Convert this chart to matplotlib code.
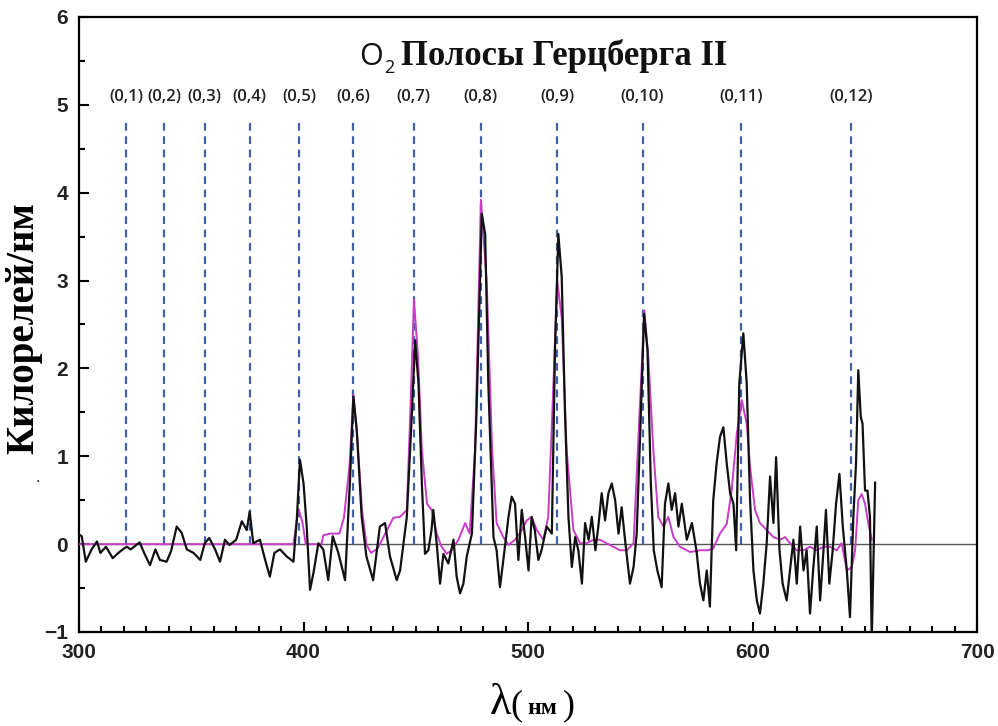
import matplotlib
matplotlib.use('Agg')
import matplotlib.pyplot as plt
from matplotlib.ticker import MultipleLocator

# band positions (nm) and labels
band_nm = [321, 338, 356, 376, 398, 422, 449, 479, 513, 551, 595, 644]
band_labels = ['(0,1)', '(0,2)', '(0,3)', '(0,4)', '(0,5)', '(0,6)', '(0,7)',
               '(0,8)', '(0,9)', '(0,10)', '(0,11)', '(0,12)']

obs_nm = [300.0, 301.2, 303.0, 305.6, 308.0, 309.5, 312.0, 315.0, 317.5, 320.0,
          321.3, 323.0, 327.0, 329.0, 331.6, 334.0, 336.0, 339.0, 341.0, 343.5,
          345.7, 348.0, 351.0, 354.0, 356.0, 358.0, 360.6, 362.8, 365.0, 367.0,
          370.0, 372.5, 374.7, 376.0, 377.6, 380.6, 382.9, 385.0, 387.0, 389.5,
          392.5, 395.5, 397.0, 398.4, 400.0, 401.4, 402.9, 404.4, 406.6, 408.8,
          411.0, 413.0, 415.5, 418.5, 420.7, 422.2, 423.7, 425.9, 428.0, 431.0,
          434.0, 436.3, 438.5, 441.5, 443.0, 446.0, 448.2, 449.7, 451.2, 452.7,
          454.1, 455.6, 457.0, 457.8, 459.3, 460.8, 462.3, 464.5, 466.8, 468.2,
          469.7, 471.2, 472.7, 475.0, 477.0, 479.4, 480.9, 482.3, 484.6, 486.0,
          487.5, 489.0, 491.3, 492.7, 494.2, 495.7, 497.2, 498.7, 500.2, 501.6,
          503.0, 504.6, 506.0, 508.3, 510.6, 512.0, 513.5, 515.0, 516.5, 518.0,
          519.5, 521.0, 522.4, 524.0, 525.4, 527.0, 528.4, 530.0, 531.3, 532.8,
          534.3, 535.8, 537.3, 538.8, 540.3, 541.7, 543.2, 545.4, 547.0, 548.4,
          550.2, 551.7, 553.2, 554.7, 556.0, 557.6, 559.5, 561.0, 562.5, 564.0,
          565.5, 567.0, 568.5, 570.7, 573.0, 575.0, 576.6, 578.1, 579.6, 581.0,
          582.5, 584.0, 585.5, 587.0, 588.5, 590.0, 591.5, 592.7, 594.1, 595.9,
          597.4, 598.9, 600.4, 601.9, 603.3, 604.8, 606.3, 607.8, 609.3, 610.5,
          612.0, 613.4, 615.2, 616.7, 618.2, 619.7, 621.2, 622.7, 624.1, 625.6,
          627.1, 628.6, 630.1, 631.6, 632.7, 634.2, 635.7, 637.2, 638.7, 640.2,
          642.0, 643.4, 644.9, 646.1, 647.1, 648.2, 649.0, 650.1, 651.2, 652.3,
          653.1, 654.6]
obs_val = [0.11, 0.09, -0.20, -0.06, 0.03, -0.10, -0.03, -0.16, -0.10, -0.05,
           -0.03, -0.06, 0.02, -0.10, -0.24, -0.06, -0.18, -0.20, -0.08, 0.20,
           0.13, -0.06, -0.10, -0.18, 0.01, 0.07, -0.06, -0.20, 0.05, -0.01,
           0.05, 0.26, 0.16, 0.37, 0.01, 0.05, -0.18, -0.37, -0.10, -0.06,
           -0.14, -0.20, 0.28, 0.96, 0.69, 0.20, -0.52, -0.33, 0.01, -0.06,
           -0.41, 0.09, -0.10, -0.41, 0.73, 1.68, 1.30, 0.31, -0.14, -0.41,
           0.20, 0.24, -0.14, -0.41, -0.30, 0.31, 1.45, 2.32, 1.83, 0.69,
           -0.11, -0.07, 0.16, 0.39, 0.01, -0.45, -0.11, -0.22, 0.05, -0.37,
           -0.56, -0.45, -0.14, 0.12, 1.45, 3.76, 3.53, 1.83, 0.08, -0.07,
           -0.49, -0.18, 0.31, 0.54, 0.46, -0.18, 0.39, 0.08, -0.30, 0.31,
           0.16, -0.18, -0.07, 0.20, 0.12, 2.21, 3.53, 3.04, 1.45, 0.31,
           -0.26, 0.08, -0.07, -0.45, 0.24, 0.05, 0.31, -0.07, 0.20, 0.58,
           0.27, 0.58, 0.69, 0.50, 0.12, 0.42, 0.05, -0.45, -0.26, 0.12,
           1.45, 2.62, 2.21, 0.69, -0.07, -0.30, -0.49, 0.46, 0.69, 0.39,
           0.58, 0.20, 0.46, 0.05, 0.24, -0.07, -0.45, -0.64, -0.30, -0.71,
           0.50, 0.92, 1.22, 1.33, 0.92, 0.58, 0.46, -0.07, 1.83, 2.40,
           1.83, 0.50, -0.30, -0.64, -0.79, -0.45, 0.01, 0.77, 0.24, 0.99,
           -0.07, -0.45, -0.64, -0.30, 0.05, -0.45, 0.20, -0.30, -0.07, -0.79,
           -0.26, 0.20, -0.64, -0.07, 0.39, -0.45, -0.07, 0.46, 0.80, 0.20,
           -0.30, -0.83, 0.31, 0.92, 1.98, 1.45, 1.37, 0.61, 0.61, 0.31,
           -1.10, 0.70]

# model spectrum (magenta)
model_nm = [300.0, 395.5, 397.7, 399.5, 401.0, 408.0, 408.8, 412.0, 416.0, 418.0,
            420.5, 422.2, 424.0, 426.0, 428.0, 430.0, 433.0, 436.0, 440.0, 443.0,
            446.0, 447.5, 449.2, 451.0, 452.7, 455.0, 457.0, 459.3, 461.5, 463.8,
            466.0, 469.0, 472.0, 474.0, 476.4, 479.0, 481.6, 484.0, 486.0, 489.0,
            491.3, 494.2, 497.2, 499.4, 501.6, 503.9, 506.8, 509.0, 511.3, 513.0,
            515.0, 517.2, 520.2, 523.2, 526.1, 529.1, 532.0, 535.0, 538.0, 541.0,
            544.0, 547.0, 549.6, 551.8, 553.6, 555.8, 558.0, 560.3, 562.5, 564.8,
            567.7, 572.2, 576.6, 580.0, 582.5, 585.5, 588.5, 590.7, 593.0, 595.2,
            597.4, 598.9, 601.1, 603.3, 606.3, 609.3, 612.3, 614.5, 616.7, 619.7,
            622.7, 625.6, 628.6, 631.6, 634.5, 637.5, 639.7, 642.0, 644.2, 645.7,
            647.1, 648.6, 650.1, 651.6, 653.1]
model_val = [0.0, 0.0, 0.40, 0.25, 0.0, 0.0, 0.10, 0.12, 0.12, 0.30,
             0.90, 1.70, 1.20, 0.40, 0.0, -0.10, -0.05, 0.10, 0.30, 0.31,
             0.39, 1.45, 2.78, 2.13, 1.07, 0.46, 0.39, 0.12, -0.03, -0.11,
             -0.07, 0.05, 0.24, 0.12, 1.07, 3.92, 2.98, 1.07, 0.24, 0.08,
             -0.01, 0.05, 0.16, 0.27, 0.31, 0.16, 0.05, 0.31, 1.82, 3.00,
             2.58, 1.07, 0.16, 0.01, 0.01, 0.05, 0.05, 0.01, -0.03, -0.07,
             -0.07, 0.01, 1.45, 2.66, 2.12, 1.07, 0.31, 0.20, 0.31, 0.08,
             -0.03, -0.09, -0.07, -0.07, -0.05, 0.12, 0.23, 0.61, 1.26, 1.64,
             1.37, 0.88, 0.39, 0.24, 0.16, 0.08, 0.05, 0.08, 0.01, -0.07,
             -0.07, -0.03, -0.07, -0.03, -0.03, -0.07, 0.01, -0.30, -0.26, -0.07,
             0.50, 0.57, 0.46, 0.23, 0.05]

fig = plt.figure(figsize=(9.98, 7.26), dpi=100)
ax = fig.add_axes([0.0792, 0.1295, 0.8998, 0.8471])

ax.axhline(0, color='#555555', lw=1.0, zorder=1)
ax.vlines(band_nm, 0, 4.8, colors='#4262a3', linestyles=(0, (3.5, 2.5)), lw=1.6, zorder=2)
ax.plot(model_nm, model_val, color='#c83cc8', lw=1.4, zorder=3)
ax.plot(obs_nm, obs_val, color='#111111', lw=1.6, zorder=4)

for x, lab in zip(band_nm, band_labels):
    ax.text(x, 5.09, lab, ha='center', va='center', fontsize=12,
            family='Open Sans', fontweight='semibold', color='#222222')

# title: sans O2 + bold serif text
ax.text(430.0, 5.55, 'O', ha='center', va='center', fontsize=22,
        family='Open Sans', color='#111111')
ax.text(438.0, 5.42, '2', ha='center', va='center', fontsize=13,
        family='Open Sans', color='#111111')
ax.text(443.5, 5.56, 'Полосы Герцберга II', ha='left', va='center',
        fontsize=25, family='Liberation Serif', fontweight='bold', color='#111111')

ax.set_xlim(300, 700)
ax.set_ylim(-1, 6)
ax.xaxis.set_major_locator(MultipleLocator(100))
ax.xaxis.set_minor_locator(MultipleLocator(10))
ax.yaxis.set_major_locator(MultipleLocator(1))
ax.yaxis.set_minor_locator(MultipleLocator(0.5))
ax.tick_params(which='both', direction='in', width=1.5, top=False, right=False)
ax.tick_params(which='major', length=7, pad=8, labelsize=15)
ax.tick_params(which='minor', length=4)
for lab in ax.get_xticklabels() + ax.get_yticklabels():
    lab.set_family('Liberation Sans')
    lab.set_fontweight('bold')
    lab.set_color('#222222')
for sp in ax.spines.values():
    sp.set_linewidth(1.6)

fig.text(24 / 998, 1 - 328 / 726, 'Килорелей/нм', rotation=90, ha='center', va='center',
         fontsize=28, family='Liberation Serif', fontweight='bold')
fig.text(38 / 998, 1 - 478 / 726, '.', ha='center', va='center', fontsize=10)

# x label: big lambda, large parentheses, small bold units
fig.text(511 / 998, 1 - 703 / 726, 'λ', ha='right', va='center',
         fontsize=32, family='Liberation Serif')
fig.text(516 / 998, 1 - 706 / 726, '(', ha='center', va='center',
         fontsize=26, family='Liberation Serif')
fig.text(542 / 998, 1 - 708 / 726, 'нм', ha='center', va='center',
         fontsize=17, family='Liberation Serif', fontweight='bold')
fig.text(569 / 998, 1 - 706 / 726, ')', ha='center', va='center',
         fontsize=26, family='Liberation Serif')

fig.savefig('out.png', dpi=100)
